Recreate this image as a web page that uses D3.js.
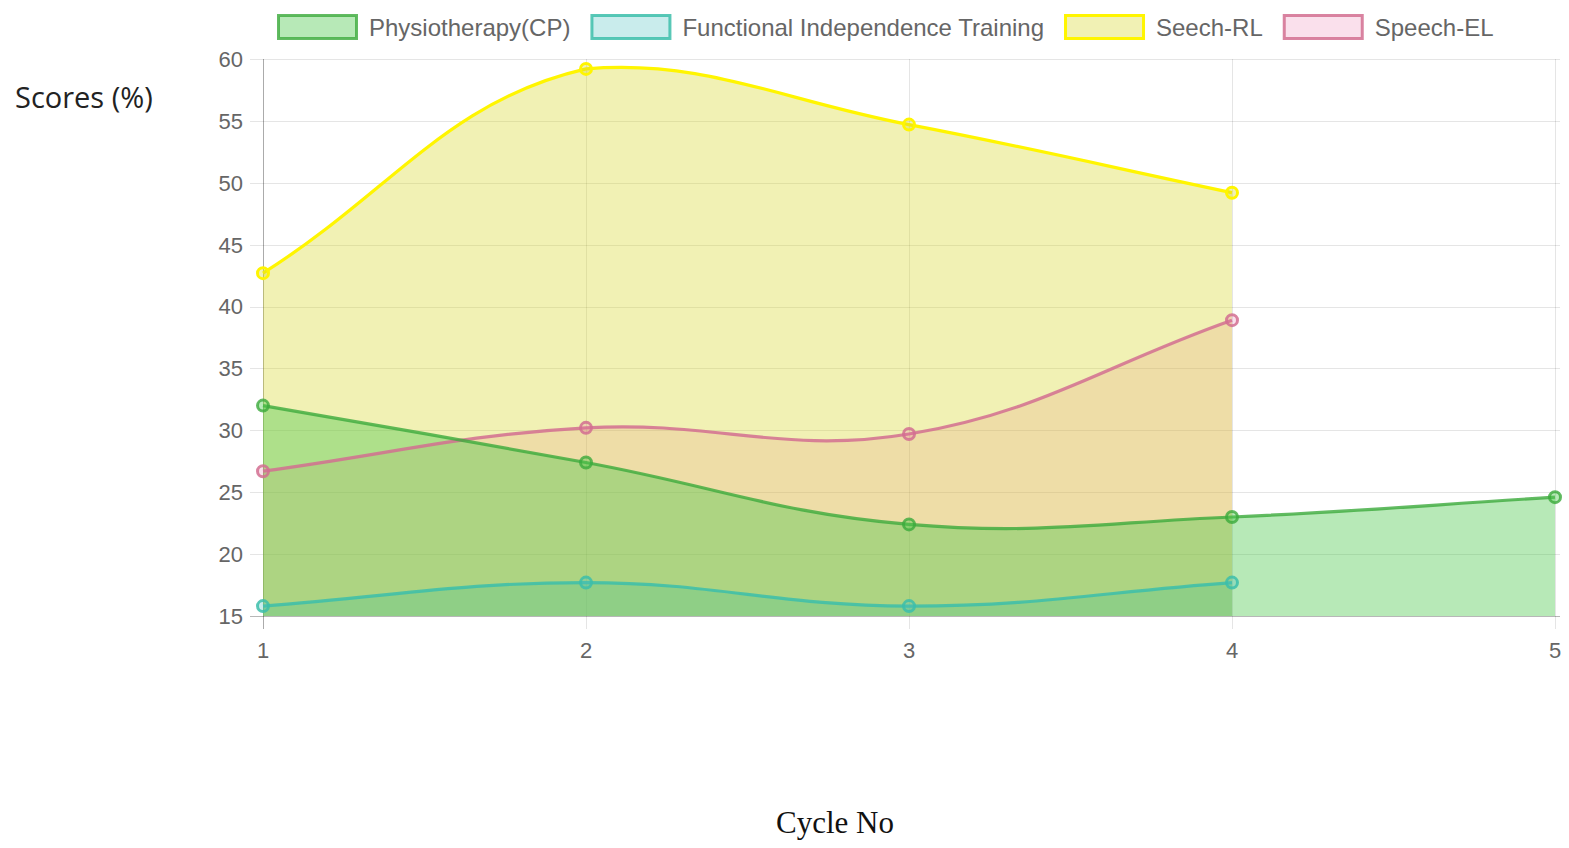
<!DOCTYPE html>
<html>
<head>
<meta charset="utf-8">
<script src="https://cdn.jsdelivr.net/npm/d3@7"></script>
<style>
  body { margin: 0; background: #fff; }
  svg { display: block; }
</style>
</head>
<body>
<div id="container"></div>
<script>
// Data
const cycles = [1, 2, 3, 4, 5];
const yTicks = [15, 20, 25, 30, 35, 40, 45, 50, 55, 60];
const physio = [32.0, 27.4, 22.4, 23.0, 24.6];
const fit = [15.8, 17.7, 15.8, 17.7];
const speechRL = [42.7, 59.2, 54.7, 49.2];
const speechEL = [26.7, 30.2, 29.7, 38.9];

const seriesNames = ["Physiotherapy(CP)", "Functional Independence Training", "Seech-RL", "Speech-EL"];
const seriesValues = [physio, fit, speechRL, speechEL];
const lineColors = ["rgba(60,170,60,0.8)", "rgba(60,190,170,0.85)", "rgb(255,245,0)", "rgba(210,110,145,0.85)"];
const fillColors = ["rgba(76,200,76,0.4)", "rgba(75,192,192,0.3)", "rgba(215,215,40,0.35)", "rgba(230,100,160,0.2)"];

const width = 1569, height = 848;
const svg = d3.select("#container").append("svg")
  .attr("width", width)
  .attr("height", height);

const plotLeft = 263, plotRight = 1555, plotTop = 59, plotBottom = 616;
const x = d3.scaleLinear().domain([1, 5]).range([plotLeft, plotRight]);
const y = d3.scaleLinear().domain([15, 60]).range([plotBottom, plotTop]);

const tickFont = "'Liberation Sans', Arial, sans-serif";

// grid
const grid = svg.append("g").attr("stroke", "rgba(0,0,0,0.1)").attr("stroke-width", 1);
grid.selectAll("line.h").data(yTicks).join("line")
  .attr("x1", plotLeft - 13).attr("x2", plotRight + 5)
  .attr("y1", d => Math.round(y(d)) + 0.5).attr("y2", d => Math.round(y(d)) + 0.5);
grid.selectAll("line.v").data(cycles).join("line")
  .attr("x1", d => Math.round(x(d)) + 0.5).attr("x2", d => Math.round(x(d)) + 0.5)
  .attr("y1", plotTop).attr("y2", plotBottom + 13);

// axis lines
svg.append("line").attr("x1", plotLeft + 0.5).attr("x2", plotLeft + 0.5).attr("y1", plotTop).attr("y2", plotBottom + 13)
  .attr("stroke", "rgba(0,0,0,0.25)");
svg.append("line").attr("x1", plotLeft - 13).attr("x2", plotRight + 5).attr("y1", plotBottom + 0.5).attr("y2", plotBottom + 0.5)
  .attr("stroke", "rgba(0,0,0,0.2)");

// tick labels
svg.append("g").selectAll("text").data(yTicks).join("text")
  .attr("x", plotLeft - 20).attr("y", d => y(d)).attr("dy", "0.36em")
  .attr("text-anchor", "end")
  .attr("font-family", tickFont).attr("font-size", 22).attr("fill", "#666")
  .text(d => d);
svg.append("g").selectAll("text").data(cycles).join("text")
  .attr("x", d => x(d)).attr("y", plotBottom + 42)
  .attr("text-anchor", "middle")
  .attr("font-family", tickFont).attr("font-size", 22).attr("fill", "#666")
  .text(d => d);

// Chart.js style spline (tension 0.4)
const controlPoints = (pts, t) => pts.map((cur, i) => {
  const prev = pts[i - 1] || cur, next = pts[i + 1] || cur;
  const d01 = Math.hypot(cur[0] - prev[0], cur[1] - prev[1]);
  const d12 = Math.hypot(next[0] - cur[0], next[1] - cur[1]);
  let s01 = d01 / (d01 + d12), s12 = d12 / (d01 + d12);
  if (isNaN(s01)) s01 = 0;
  if (isNaN(s12)) s12 = 0;
  const fa = t * s01, fb = t * s12;
  const cap = (p) => [Math.max(plotLeft, Math.min(plotRight, p[0])), Math.max(plotTop, Math.min(plotBottom, p[1]))];
  return {
    prev: cap([cur[0] - fa * (next[0] - prev[0]), cur[1] - fa * (next[1] - prev[1])]),
    next: cap([cur[0] + fb * (next[0] - prev[0]), cur[1] + fb * (next[1] - prev[1])])
  };
});

const splinePath = (pts, closeToBase) => {
  const cps = controlPoints(pts, 0.4);
  const p = d3.path();
  p.moveTo(pts[0][0], pts[0][1]);
  for (let i = 1; i < pts.length; i++) {
    p.bezierCurveTo(cps[i - 1].next[0], cps[i - 1].next[1], cps[i].prev[0], cps[i].prev[1], pts[i][0], pts[i][1]);
  }
  if (closeToBase) {
    p.lineTo(pts[pts.length - 1][0], plotBottom);
    p.lineTo(pts[0][0], plotBottom);
    p.closePath();
  }
  return p.toString();
};

// draw last dataset first, like Chart.js
const order = [3, 2, 1, 0];
const plot = svg.append("g");
order.forEach(k => {
  const pts = seriesValues[k].map((v, i) => [x(cycles[i]), y(v)]);
  plot.append("path").attr("d", splinePath(pts, true)).attr("fill", fillColors[k]);
});
order.forEach(k => {
  const pts = seriesValues[k].map((v, i) => [x(cycles[i]), y(v)]);
  plot.append("path").attr("d", splinePath(pts, false))
    .attr("fill", "none").attr("stroke", lineColors[k]).attr("stroke-width", 3.2);
  plot.append("g").selectAll("circle").data(pts).join("circle")
    .attr("cx", d => d[0]).attr("cy", d => d[1]).attr("r", 5.5)
    .attr("fill", fillColors[k]).attr("stroke", lineColors[k]).attr("stroke-width", 3);
});

// legend
const legend = svg.append("g");
let lx = 277;
seriesNames.forEach((name, k) => {
  legend.append("rect").attr("x", lx + 1.5).attr("y", 15.5).attr("width", 78).attr("height", 23)
    .attr("fill", fillColors[k]).attr("stroke", lineColors[k]).attr("stroke-width", 3);
  const t = legend.append("text").attr("x", lx + 92).attr("y", 27).attr("dy", "0.36em")
    .attr("font-family", tickFont).attr("font-size", 24).attr("fill", "#666")
    .text(name);
  lx += 92 + t.node().getComputedTextLength() + 20;
});

// axis titles
svg.append("text").attr("x", 15).attr("y", 108)
  .attr("font-family", "'Open Sans', 'Noto Sans', sans-serif").attr("font-size", 29).attr("fill", "#222")
  .text("Scores (%)");
svg.append("text").attr("x", 835).attr("y", 833).attr("text-anchor", "middle")
  .attr("font-family", "'Liberation Serif', 'DejaVu Serif', serif").attr("font-size", 31).attr("fill", "#111")
  .text("Cycle No");
</script>
</body>
</html>
